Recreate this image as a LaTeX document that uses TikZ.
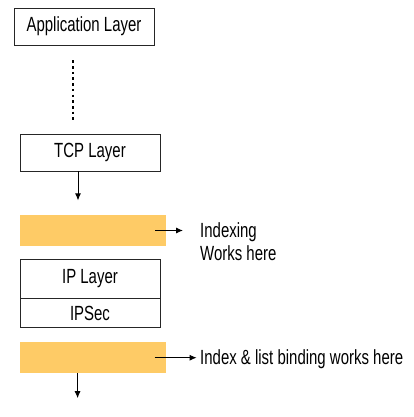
\documentclass[tikz,border=0pt]{standalone}
\usepackage{fontspec}
\setmainfont{Liberation Sans}[FakeStretch=0.73]
\usetikzlibrary{arrows.meta,positioning}
\definecolor{barfill}{RGB}{254,203,102}

\begin{document}
\begin{tikzpicture}[x=1pt, y=-1pt, font=\fontsize{20.5}{22.3}\selectfont]

            % Define block styles
            \tikzstyle{block} = [rectangle, draw=black!85, line width=.8pt, fill=white, minimum width=140pt, minimum height=37pt, inner sep=0pt, text centered]
            \tikzstyle{bar} = [rectangle, fill=barfill, minimum width=146pt, minimum height=31pt, inner sep=0pt, outer sep=0pt]
            \tikzstyle{note} = [inner sep=0pt, align=left]
            \tikzstyle{line} = [draw, line width=.9pt, -{Latex[length=7pt,width=6pt]}]
            \tikzstyle{dots} = [draw, line width=2.6pt, dash pattern=on 2.6pt off 3.1pt]

            \useasboundingbox (0,0) rectangle (413,417);

            % Nodes
            \node [block] (app) at (84,26.5) {Application Layer};
            \node [block] (tcp) at (90,152.5) {TCP Layer};
            \node [bar] (idxbar) at (93,230.5) {};
            \node [block, minimum height=39pt] (ip) at (90,278.5) {IP Layer};
            \node [block, minimum height=29pt, below=0pt of ip] (ipsec) {IPSec};
            \node [bar, below=14pt of ipsec.south west, anchor=north west] (bindbar) {};
            \coordinate [right=17pt of idxbar.east] (idxend);
            \coordinate [right=31pt of bindbar.east] (bindend);
            \coordinate [below=25pt of bindbar.south] (down);
            \node [note, anchor=base west] (idxtxt) at (200,260) {Indexing\\Works here};
            \node [note, anchor=base west] (bindtxt) at (200,364) {Index \& list binding works here};

            % Arrows
            \path [dots] ([xshift=-11pt,yshift=-15pt]app.south) -- ([xshift=-17pt,yshift=13pt]tcp.north);
            \path [line] ([xshift=-12pt]tcp.south) -- ([xshift=-12pt,yshift=-29pt]tcp.south);
            \path [line] ([xshift=-11pt]idxbar.east) -- (idxend);
            \path [line] ([xshift=-11pt]bindbar.east) -- (bindend);
            \path [line] ([xshift=-15pt]bindbar.south) -- ([xshift=-15pt]down);

        \end{tikzpicture}
\end{document}
